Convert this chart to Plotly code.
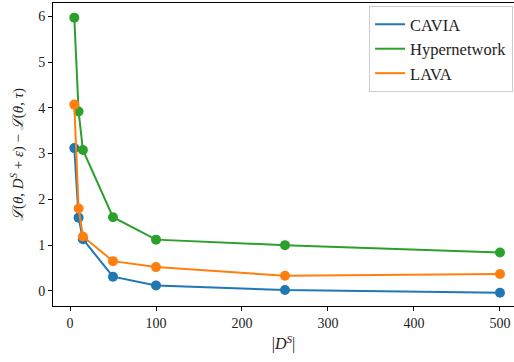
import plotly.graph_objects as go

sizes = [5, 10, 15, 50, 100, 250, 500]
cavia = [3.12, 1.60, 1.13, 0.31, 0.12, 0.02, -0.04]
hypernetwork = [5.97, 3.92, 3.08, 1.61, 1.12, 1.00, 0.84]
lava = [4.07, 1.80, 1.19, 0.65, 0.52, 0.33, 0.37]

series = [("CAVIA", cavia, "#1f77b4"),
          ("Hypernetwork", hypernetwork, "#2ca02c"),
          ("LAVA", lava, "#ff7f0e")]

FONT = "Times New Roman, Liberation Serif, DejaVu Serif, serif"
fig = go.Figure()
for name, vals, col in series:
    fig.add_trace(go.Scatter(x=sizes, y=vals, mode="lines+markers", name=name,
                             line=dict(color=col, width=2),
                             marker=dict(color=col, size=10),
                             showlegend=False))
for name, vals, col in series:
    fig.add_trace(go.Scatter(x=[None], y=[None], mode="lines", name=name,
                             line=dict(color=col, width=2), showlegend=True))

fig.update_layout(
    width=514, height=362,
    margin=dict(l=53, r=0, t=3, b=56, autoexpand=False),
    paper_bgcolor="white", plot_bgcolor="white",
    font=dict(family=FONT, size=14, color="#222"),
    legend=dict(x=0.998, y=0.99, xanchor="right", yanchor="top",
                bordercolor="#cccccc", borderwidth=1, bgcolor="white",
                font=dict(family=FONT, size=16.5, color="#222"),
                itemwidth=30, tracegroupgap=0),
)
fig.update_xaxes(range=[-19.77, 516.3], tickvals=[0, 100, 200, 300, 400, 500],
                 automargin=False,
                 showgrid=False, zeroline=False, showline=True, linecolor="black",
                 linewidth=1, mirror=True, ticks="outside", ticklen=4, tickcolor="black",
                 title=dict(text="|<i>D<sup>S</sup></i>|", font=dict(size=16), standoff=8))
fig.update_yaxes(range=[-0.33, 6.29], tickvals=[0, 1, 2, 3, 4, 5, 6],
                 automargin=False,
                 showgrid=False, zeroline=False, showline=True, linecolor="black",
                 linewidth=1, mirror=False, ticks="outside", ticklen=4, tickcolor="black",
                 title=dict(text="<i>ℒ</i>(<i>θ</i>, <i>D<sup>S</sup></i> + <i>ε</i>) − <i>ℒ</i>(<i>θ</i>, <i>τ</i>)",
                            font=dict(size=15), standoff=10))
fig.write_html("out.html", config={"displayModeBar": False},
               post_script="document.body.style.margin='0';document.body.style.padding='0';")
